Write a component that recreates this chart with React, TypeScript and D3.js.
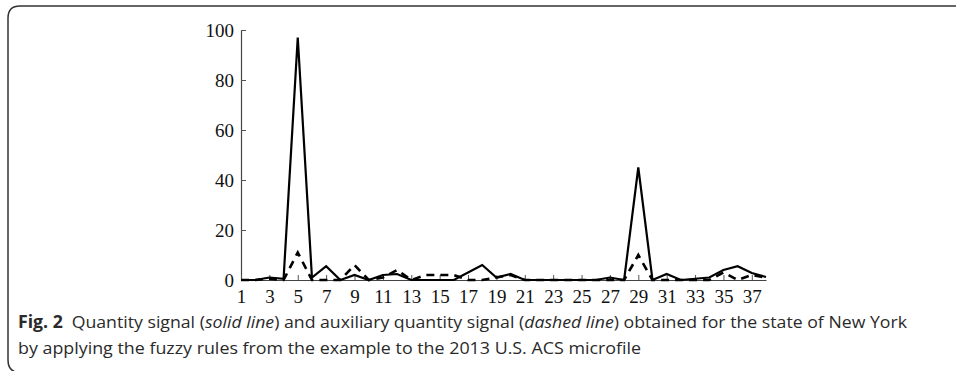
import { useEffect, useRef } from "react";
import * as d3 from "d3";

const positions = d3.range(1, 39);
const quantity = [0, 0, 1, 0.5, 97, 1, 5.5, 0, 2, 0, 2, 2.4, 0, 0, 0, 0, 3, 6, 1, 2.4, 0, 0, 0, 0, 0, 0, 1, 0, 45, 0, 2.4, 0, 0.5, 1, 4, 5.5, 2.8, 1.2];
const auxiliary = [0, 0, 0.5, 0, 11, 0, 0, 0, 6, 0, 1, 4, 0, 2, 2, 2, 0, 0, 1, 2, 0, 0, 0, 0, 0, 0, 0, 0, 10, 0, 0, 0, 0, 0, 3, 0, 2, 1];
const xTicks = d3.range(1, 38, 2);
const yTicks = [0, 20, 40, 60, 80, 100];

export default function App() {
  const svgRef = useRef<SVGSVGElement | null>(null);

  useEffect(() => {
    document.body.style.margin = "0";
    const width = 956;
    const height = 371;
    const svg = d3.select(svgRef.current).attr("width", width).attr("height", height);
    svg.selectAll("*").remove();

    // figure frame, open on the right
    svg
      .append("path")
      .attr("d", "M22,373 Q8,373 8,360 L8,18 Q8,6 20,6 L960,6")
      .attr("fill", "none")
      .attr("stroke", "#333")
      .attr("stroke-width", 1.5);

    const x = d3.scaleLinear().domain([1, 38]).range([241, 766]);
    const y = d3.scaleLinear().domain([0, 100]).range([280, 30]);

    const yAxis = svg
      .append("g")
      .attr("transform", `translate(${x(1)},0)`)
      .call(d3.axisLeft(y).tickValues(yTicks).tickSizeInner(-5).tickSizeOuter(0).tickPadding(7));
    const xAxis = svg
      .append("g")
      .attr("transform", `translate(0,${y(0)})`)
      .call(d3.axisBottom(x).tickValues(xTicks).tickSizeInner(-5).tickSizeOuter(0).tickPadding(9));

    [yAxis, xAxis].forEach((g) => {
      g.select(".domain").attr("stroke", "#444").attr("stroke-width", 1.2);
      g.selectAll(".tick line").attr("stroke", "#555");
      g.selectAll(".tick text")
        .attr("fill", "#111")
        .style("font-family", "'Liberation Serif', 'DejaVu Serif', serif")
        .style("font-size", "19px");
    });
    xAxis.selectAll(".tick text").attr("dy", "0.75em");

    const line = d3
      .line<number>()
      .x((_, i) => x(positions[i]))
      .y((d) => y(d));

    svg
      .append("path")
      .datum(auxiliary)
      .attr("d", line)
      .attr("fill", "none")
      .attr("stroke", "#000")
      .attr("stroke-width", 2.6)
      .attr("stroke-dasharray", "8,6");

    svg
      .append("path")
      .datum(quantity)
      .attr("d", line)
      .attr("fill", "none")
      .attr("stroke", "#000")
      .attr("stroke-width", 2.2)
      .attr("stroke-linejoin", "miter");

    // caption
    const cap = svg
      .append("g")
      .style("font-family", "'Open Sans', 'Noto Sans', sans-serif")
      .style("font-size", "17px")
      .attr("fill", "#2a2a2a");
    const l1 = cap.append("text").attr("x", 18).attr("y", 328).attr("textLength", 889).attr("lengthAdjust", "spacingAndGlyphs");
    l1.append("tspan").attr("font-weight", "bold").text("Fig. 2");
    l1.append("tspan").text("\u2002Quantity signal (");
    l1.append("tspan").attr("font-style", "italic").text("solid line");
    l1.append("tspan").text(") and auxiliary quantity signal (");
    l1.append("tspan").attr("font-style", "italic").text("dashed line");
    l1.append("tspan").text(") obtained for the state of New York");
    cap
      .append("text")
      .attr("x", 18)
      .attr("y", 354)
      .attr("textLength", 623)
      .attr("lengthAdjust", "spacingAndGlyphs")
      .text("by applying the fuzzy rules from the example to the 2013 U.S. ACS microfile");
  }, []);

  return <svg ref={svgRef} style={{ display: "block" }}></svg>;
}
